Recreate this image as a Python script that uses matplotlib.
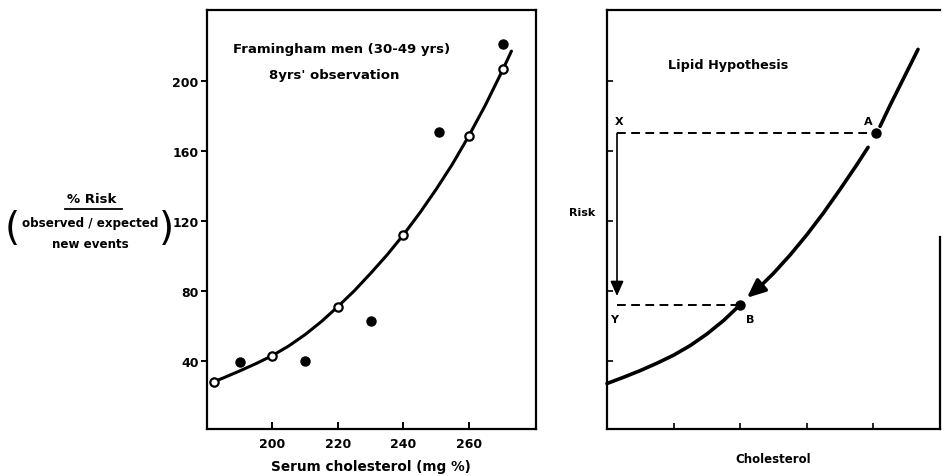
import matplotlib
matplotlib.use("Agg")
import matplotlib.pyplot as plt

# ---- data: Framingham men (30-49 yrs), 8 yrs observation ----
chol_open = [182, 200, 220, 240, 260, 270.5]
risk_open = [28, 43, 71, 112, 168.6, 207]
chol_filled = [190, 210, 230, 251, 270.5]
risk_filled = [39.5, 40, 63, 171, 221]

# fitted risk curve
curve_chol = [182, 185, 190, 195, 200, 205, 210, 215, 220, 225, 230, 235, 240,
              245, 250, 255, 260, 265, 270, 273]
curve_risk = [28, 30.2, 34.2, 38.4, 43, 48.5, 55, 62.5, 71, 80, 90, 100.5, 112,
              124.5, 138, 152.5, 168.6, 186, 205, 217]

x_ticks = [200, 220, 240, 260]
y_ticks = [40, 80, 120, 160, 200]

# ---- schematic: lipid hypothesis ----
low_x = [0.0, 0.25, 0.5, 0.75, 1.0, 1.25, 1.5, 1.75, 2.0]
low_y = [27, 30.6, 34.4, 38.6, 43.2, 48.7, 55.3, 63, 72]
mid_x = [3.92, 3.75, 3.5, 3.25, 3.0, 2.75, 2.5, 2.3]
mid_y = [162, 152, 138, 124.5, 112, 100.5, 90, 82.5]
arrow_tip = (2.1, 76)
up_x = [4.1, 4.25, 4.5, 4.67]
up_y = [174, 186, 205, 218]
point_A = (4.04, 170)
point_B = (2.0, 72)
axis_x = 0.15
schem_xticks = [1, 2, 3, 4]

W, H = 943, 477
fig = plt.figure(figsize=(W / 100, H / 100), dpi=100)
fig.patch.set_facecolor("white")

FONT = dict(family="DejaVu Sans", fontweight="bold", color="black")


def ftext(x, y, s, size=8.5, **kw):
    opts = dict(FONT)
    opts.update(kw)
    fig.text(x / W, 1 - y / H, s, fontsize=size, ha=opts.pop("ha", "center"),
             va=opts.pop("va", "center"), **opts)


# ---------------- left panel ----------------
ax1 = fig.add_axes([207 / W, 47 / H, 329 / W, 419 / H])
ax1.set_xlim(180, 280.5)
ax1.set_ylim(1, 240.5)
for sp in ax1.spines.values():
    sp.set_linewidth(1.6)
ax1.plot(curve_chol, curve_risk, color="black", lw=2.2, solid_capstyle="round",
         solid_joinstyle="round", zorder=2)
ax1.plot(chol_open, risk_open, "o", ms=6, mfc="white", mec="black", mew=1.6, zorder=3)
ax1.plot(chol_filled, risk_filled, "o", ms=6.5, color="black", zorder=3)
ax1.set_xticks(x_ticks)
ax1.set_yticks(y_ticks)
ax1.set_xticklabels([str(v) for v in x_ticks], fontsize=9, fontweight="bold")
ax1.set_yticklabels([str(v) for v in y_ticks], fontsize=9, fontweight="bold")
ax1.tick_params(axis="x", direction="in", length=5, width=1.4, pad=6)
ax1.tick_params(axis="y", direction="out", length=4, width=1.4, pad=2)

ftext(342, 50, "Framingham men (30-49 yrs)", size=9.5)
ftext(334, 76, "8yrs' observation", size=9.5)
ftext(371, 467, "Serum cholesterol (mg %)", size=9.8)

# y-axis label as a fraction in parentheses
ftext(92, 200, "% Risk", size=9.5)
fig.add_artist(plt.Line2D([65 / W, 122 / W], [1 - 210 / H, 1 - 210 / H],
                          color="black", lw=1.3))
ftext(90, 224, "observed / expected", size=8.6)
ftext(90, 245, "new events", size=8.6)
ftext(12, 229, "(", size=28, fontweight="normal")
ftext(166, 229, ")", size=28, fontweight="normal")

# ---------------- right panel ----------------
ax2 = fig.add_axes([607 / W, 47 / H, 333 / W, 419 / H])
ax2.set_xlim(0, 5)
ax2.set_ylim(1, 240.5)
for sp in ax2.spines.values():
    sp.set_linewidth(1.6)
ax2.spines["right"].set_bounds(1, 111)
ax2.set_xticks(schem_xticks)
ax2.set_yticks(y_ticks)
ax2.set_xticklabels([])
ax2.set_yticklabels([])
ax2.tick_params(direction="in", length=4, width=1.2)

# curve pieces
seg = dict(color="black", lw=2.6, solid_capstyle="round", solid_joinstyle="round")
ax2.plot(low_x, low_y, clip_on=False, **seg)
ax2.plot(up_x, up_y, **seg)
ax2.plot(mid_x, mid_y, **seg)
ax2.annotate("", xy=arrow_tip, xytext=(mid_x[-1], mid_y[-1]),
             arrowprops=dict(arrowstyle="-|>,head_length=0.55,head_width=0.24",
                             color="black", lw=2.6, shrinkA=0, shrinkB=0,
                             mutation_scale=20))

# dashed guides
dash = (0, (4.5, 2.8))
ax2.plot([axis_x, point_A[0]], [point_A[1], point_A[1]], color="black", lw=1.4, ls=dash)
ax2.plot([axis_x, point_B[0]], [point_B[1], point_B[1]], color="black", lw=1.4, ls=dash)

# vertical drop X -> Y
ax2.annotate("", xy=(axis_x, 77), xytext=(axis_x, point_A[1]),
             arrowprops=dict(arrowstyle="-|>,head_length=0.45,head_width=0.2",
                             color="black", lw=1.2, shrinkA=0, shrinkB=0,
                             mutation_scale=20))

ax2.plot(*point_A, "o", ms=6.5, color="black", zorder=4)
ax2.plot(*point_B, "o", ms=6.5, color="black", zorder=4)

lbl = dict(fontsize=8, fontweight="bold", ha="center", va="center")
ax2.text(0.18, 177, "X", **lbl)
ax2.text(0.11, 64, "Y", **lbl)
ax2.text(3.92, 177, "A", **lbl)
ax2.text(2.15, 64, "B", **lbl)

ftext(728, 66, "Lipid Hypothesis", size=9.2)
ftext(582, 213, "Risk", size=8)
ftext(773, 460, "Cholesterol", size=8.5)

fig.savefig("out.png", dpi=100, facecolor="white")
